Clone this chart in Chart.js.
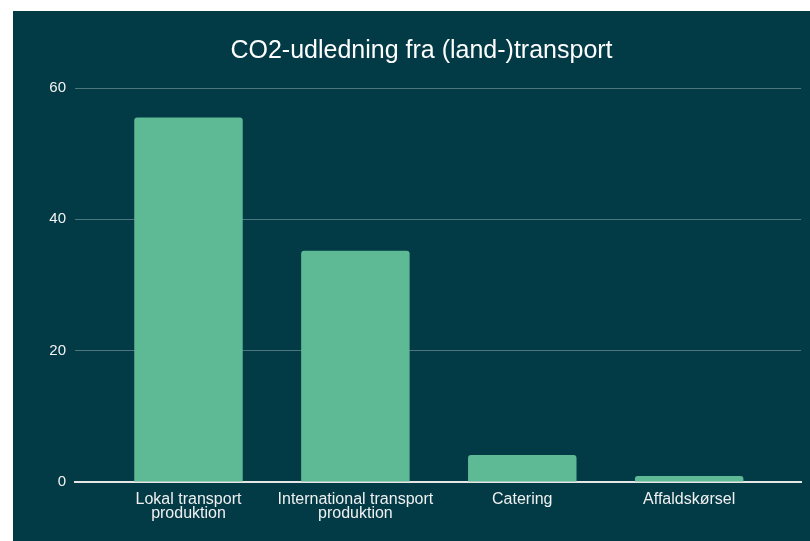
<!DOCTYPE html>
<html>
<head>
<meta charset="utf-8">
<script src="https://cdn.jsdelivr.net/npm/chart.js@4.4.1/dist/chart.umd.min.js"></script>
<style>
  html, body { margin: 0; padding: 0; background: #ffffff; }
  #wrap { position: absolute; left: 13px; top: 11px; width: 797px; height: 530px; background: #023a46; }
  canvas { display: block; }
</style>
</head>
<body>
<div id="wrap"><canvas id="c" width="797" height="530"></canvas></div>
<script>
const categories = ['Lokal transport\nproduktion', 'International transport\nproduktion', 'Catering', 'Affaldskørsel'];
const emissions = [55.5, 35.2, 4.1, 0.9];
const yTicks = [0, 20, 40, 60];
const chartTitle = 'CO2-udledning fra (land-)transport';

const FONT = "'Liberation Sans', Arial, Helvetica, sans-serif";

const points = emissions.map((v, i) => ({ x: i, y: v }));

new Chart(document.getElementById('c'), {
  type: 'bar',
  data: {
    datasets: [{
      data: points,
      backgroundColor: '#5eba94',
      borderWidth: 0,
      borderRadius: { topLeft: 3, topRight: 3, bottomLeft: 0, bottomRight: 0 },
      borderSkipped: 'bottom',
      barPercentage: 0.65,
      categoryPercentage: 1
    }]
  },
  options: {
    responsive: false,
    animation: false,
    layout: { padding: { left: 29, right: 9, top: 0, bottom: 0 } },
    plugins: {
      legend: { display: false },
      tooltip: { enabled: false },
      title: {
        display: true,
        text: chartTitle,
        color: '#ffffff',
        font: { family: FONT, size: 25, weight: 'normal', lineHeight: 1.2 },
        padding: { top: 25, bottom: 22 }
      }
    },
    scales: {
      x: {
        type: 'linear',
        min: -0.68,
        max: 3.67,
        offset: false,
        afterBuildTicks: (scale) => { scale.ticks = categories.map((_, i) => ({ value: i })); },
        afterFit: (scale) => { scale.height = 59; },
        grid: { display: false, drawTicks: false },
        border: { display: true, color: '#e6e6e6', width: 2 },
        ticks: {
          autoSkip: false,
          maxRotation: 0,
          padding: 10,
          color: '#f0f0f0',
          font: { family: FONT, size: 16, lineHeight: 0.9 },
          callback: (v) => {
            const label = categories[Math.round(v)];
            return label ? label.split('\n') : '';
          }
        }
      },
      y: {
        min: 0,
        max: 60,
        afterBuildTicks: (scale) => { scale.ticks = yTicks.map(v => ({ value: v })); },
        afterFit: (scale) => { scale.width = 33; },
        grid: {
          drawTicks: false,
          color: 'rgba(255,255,255,0.3)',
          lineWidth: 1
        },
        border: { display: false },
        ticks: {
          padding: 9,
          color: '#f4f4f4',
          font: { family: FONT, size: 15 }
        }
      }
    }
  }
});
</script>
</body>
</html>
